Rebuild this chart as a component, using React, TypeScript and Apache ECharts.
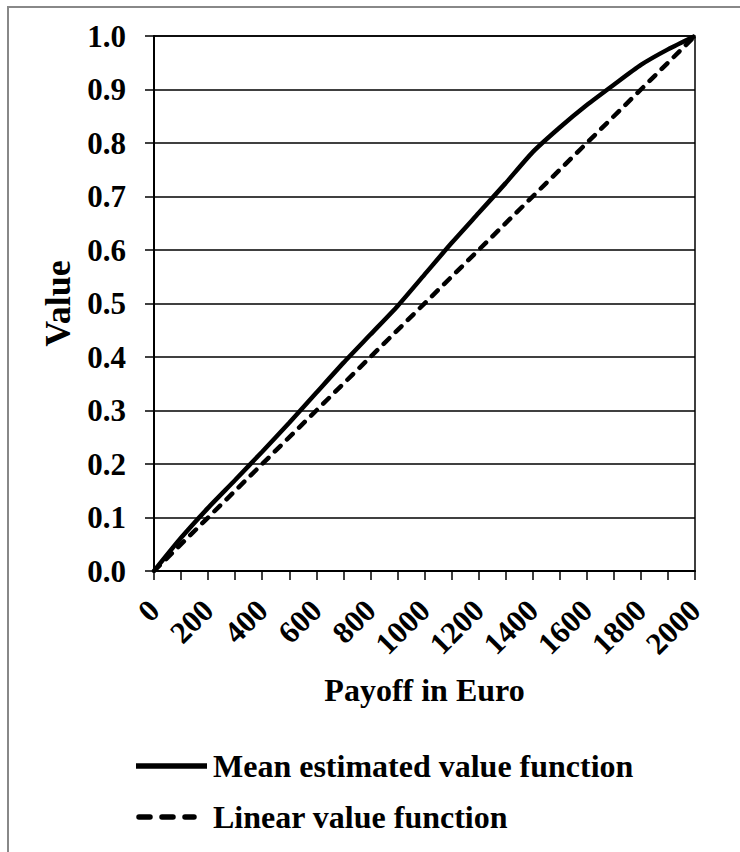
import React, { useEffect, useRef } from "react";
import * as echarts from "echarts";

const payoffs = [0, 100, 200, 300, 400, 500, 600, 700, 800, 900, 1000, 1100, 1200, 1300, 1400, 1500, 1600, 1700, 1800, 1900, 2000];
const meanValues = [0, 0.062, 0.118, 0.17, 0.223, 0.277, 0.333, 0.389, 0.442, 0.495, 0.554, 0.613, 0.669, 0.725, 0.783, 0.829, 0.871, 0.909, 0.946, 0.975, 1.0];
const linearPayoffs = [0, 2000];
const linearValues = [0, 1];
const seriesNames = ["Mean estimated value function", "Linear value function"];
const xAxisTitle = "Payoff in Euro";
const yAxisTitle = "Value";

const FONT = "'Liberation Serif', 'Times New Roman', serif";

export default function App() {
  const ref = useRef<HTMLDivElement>(null);
  useEffect(() => {
    if (!ref.current) return;
    const chart = echarts.init(ref.current, undefined, { renderer: "svg" });
    const textBase = { fontFamily: FONT, fontWeight: "bold" as const, color: "#000" };
    chart.setOption({
      animation: false,
      backgroundColor: "#fff",
      grid: {
        left: 154,
        top: 36,
        width: 541,
        height: 535,
        show: true,
        borderColor: "#000",
        borderWidth: 1.5,
        backgroundColor: "transparent",
      },
      xAxis: {
        type: "value",
        min: 0,
        max: 2000,
        interval: 100,
        name: xAxisTitle,
        nameLocation: "middle",
        nameGap: 103,
        nameTextStyle: { ...textBase, fontSize: 32 },
        axisLine: { lineStyle: { color: "#000", width: 2 } },
        axisTick: { show: true, inside: false, length: 9, lineStyle: { color: "#000", width: 1.5 } },
        splitLine: { show: false },
        axisLabel: {
          ...textBase,
          fontSize: 31,
          rotate: 45,
          margin: 34,
          formatter: (v: number) => (v % 200 === 0 ? String(v) : ""),
        },
      },
      yAxis: {
        type: "value",
        min: 0,
        max: 1,
        interval: 0.1,
        name: yAxisTitle,
        nameLocation: "middle",
        nameRotate: 90,
        nameGap: 76,
        nameTextStyle: { ...textBase, fontSize: 36 },
        axisLine: { show: true, lineStyle: { color: "#000", width: 2 } },
        axisTick: { show: true, inside: false, length: 9, lineStyle: { color: "#000", width: 1.5 } },
        splitLine: { show: true, lineStyle: { color: "#000", width: 1.5 } },
        axisLabel: {
          ...textBase,
          fontSize: 31,
          margin: 28,
          formatter: (v: number) => v.toFixed(1),
        },
      },
      series: [
        {
          name: seriesNames[0],
          type: "line",
          data: payoffs.map((p, i) => [p, meanValues[i]]),
          symbol: "none",
          smooth: 0.2,
          lineStyle: { color: "#000", width: 4.5 },
          z: 3,
        },
        {
          name: seriesNames[1],
          type: "line",
          data: linearPayoffs.map((p, i) => [p, linearValues[i]]),
          symbol: "none",
          lineStyle: { color: "#000", width: 4.5, type: [8, 9], cap: "round" },
          z: 3,
        },
      ],
      graphic: [
        {
          type: "rect",
          shape: { x: 8, y: 7, width: 1000, height: 1000 },
          style: { fill: "none", stroke: "#888", lineWidth: 2 },
          silent: true,
        },
        {
          type: "line",
          shape: { x1: 136, y1: 766, x2: 207, y2: 766 },
          style: { stroke: "#000", lineWidth: 5.5 },
        },
        {
          type: "text",
          x: 213,
          y: 766,
          style: {
            text: seriesNames[0],
            font: `bold 32px ${FONT}`,
            fill: "#000",
            verticalAlign: "middle",
            align: "left",
          },
        },
        {
          type: "line",
          shape: { x1: 139, y1: 817, x2: 194, y2: 817 },
          style: { stroke: "#000", lineWidth: 5.5, lineDash: [11, 12], lineCap: "round" },
        },
        {
          type: "text",
          x: 213,
          y: 817,
          style: {
            text: seriesNames[1],
            font: `bold 32px ${FONT}`,
            fill: "#000",
            verticalAlign: "middle",
            align: "left",
          },
        },
      ],
    });
    return () => chart.dispose();
  }, []);
  return (
    <div
      ref={ref}
      style={{ position: "fixed", left: 0, top: 0, width: 740, height: 852, background: "#fff" }}
    />
  );
}
